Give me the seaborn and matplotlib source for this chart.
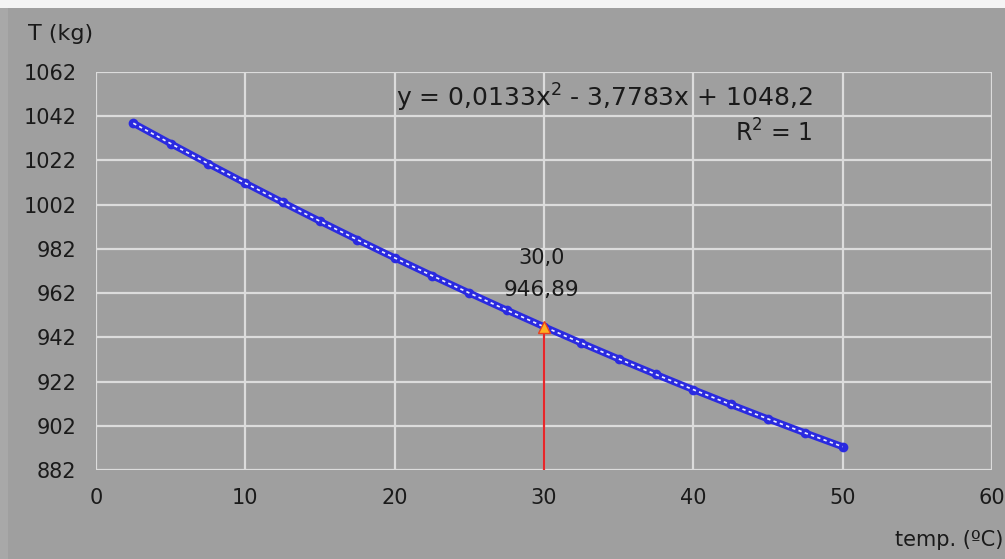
import matplotlib
matplotlib.use("Agg")
import matplotlib.pyplot as plt
import numpy as np
import pandas as pd
import seaborn as sns
from matplotlib.patches import Rectangle

# values (temperature in ºC, T in kg)
temp = [2.5, 5.0, 7.5, 10.0, 12.5, 15.0, 17.5, 20.0, 22.5, 25.0,
        27.5, 30.0, 32.5, 35.0, 37.5, 40.0, 42.5, 45.0, 47.5, 50.0]
mass = [1038.84, 1029.64, 1020.61, 1011.75, 1003.05, 994.52, 986.15, 977.95, 969.92, 962.05,
        954.35, 946.82, 939.45, 932.25, 925.22, 918.35, 911.65, 905.11, 898.74, 892.54]

x_ticks = [0, 10, 20, 30, 40, 50, 60]
y_ticks = [882, 902, 922, 942, 962, 982, 1002, 1022, 1042, 1062]

sel_x = 30.0
sel_y = 946.89
equation = "y = 0,0133x$^2$ - 3,7783x + 1048,2"
r2_text = "R$^2$ = 1"

BG = "#9f9f9f"
GRID = "#dcdcdc"
TEXT = "#1a1a1a"

sns.set_theme(style="whitegrid", rc={
    "figure.facecolor": BG,
    "axes.facecolor": BG,
    "grid.color": GRID,
    "grid.linewidth": 1.6,
})
plt.rcParams["font.family"] = ["DejaVu Sans"]

df = pd.DataFrame({"temp": temp, "mass": mass})

fig = plt.figure(figsize=(10.05, 5.59), dpi=100)
ax = fig.add_axes([0.0955, 0.1592, 0.8915, 0.712])

# light frame strips at the top and left edges of the screenshot
fig.patches.append(Rectangle((0, 1 - 8 / 559), 1, 8 / 559, transform=fig.transFigure,
                             facecolor="#f4f4f4", edgecolor="none", zorder=0))
fig.patches.append(Rectangle((0, 0), 8 / 1005, 1 - 8 / 559, transform=fig.transFigure,
                             facecolor="#a8a8a8", edgecolor="none", zorder=0))

# data line + markers, then the white dotted trend line on top
sns.lineplot(data=df, x="temp", y="mass", ax=ax, color="#2a2ae0", linewidth=5,
             marker="o", markersize=7, markeredgewidth=0, zorder=3)
sns.lineplot(data=df, x="temp", y="mass", ax=ax, color="#f0f0ff", linewidth=1.2,
             linestyle=(0, (2, 2)), zorder=4)

# selected point
ax.plot([sel_x, sel_x], [y_ticks[0], sel_y], color="#e8262a", linewidth=1.6, zorder=5)
ax.plot([sel_x], [sel_y], marker="^", color="#ffb020", markeredgecolor="#e84020",
        markersize=8, zorder=6)
ax.text(sel_x - 0.15, sel_y + 30.8, "30,0", ha="center", va="center", fontsize=15, color=TEXT)
ax.text(sel_x - 0.15, sel_y + 16.4, "946,89", ha="center", va="center", fontsize=15.5, color=TEXT)

ax.text(48.0, 1050.4, equation, ha="right", va="center", fontsize=18, color=TEXT)
ax.text(48.0, 1034.6, r2_text, ha="right", va="center", fontsize=17, color=TEXT)

ax.set_xlim(x_ticks[0], x_ticks[-1])
ax.set_ylim(y_ticks[0], y_ticks[-1])
ax.set_xticks(x_ticks)
ax.set_yticks(y_ticks)
ax.tick_params(axis="both", labelsize=15, labelcolor=TEXT, color=GRID, length=4, width=1.6)
ax.tick_params(axis="x", pad=9)
ax.tick_params(axis="y", pad=10)
ax.set_xlabel("")
ax.set_ylabel("")
for s in ax.spines.values():
    s.set_visible(False)

fig.text(0.028, 0.94, "T (kg)", fontsize=16, color=TEXT, ha="left", va="center")
fig.text(0.998, 0.034, "temp. (ºC)", fontsize=15, color=TEXT, ha="right", va="center")

fig.savefig("out.png", dpi=100, facecolor=BG)
